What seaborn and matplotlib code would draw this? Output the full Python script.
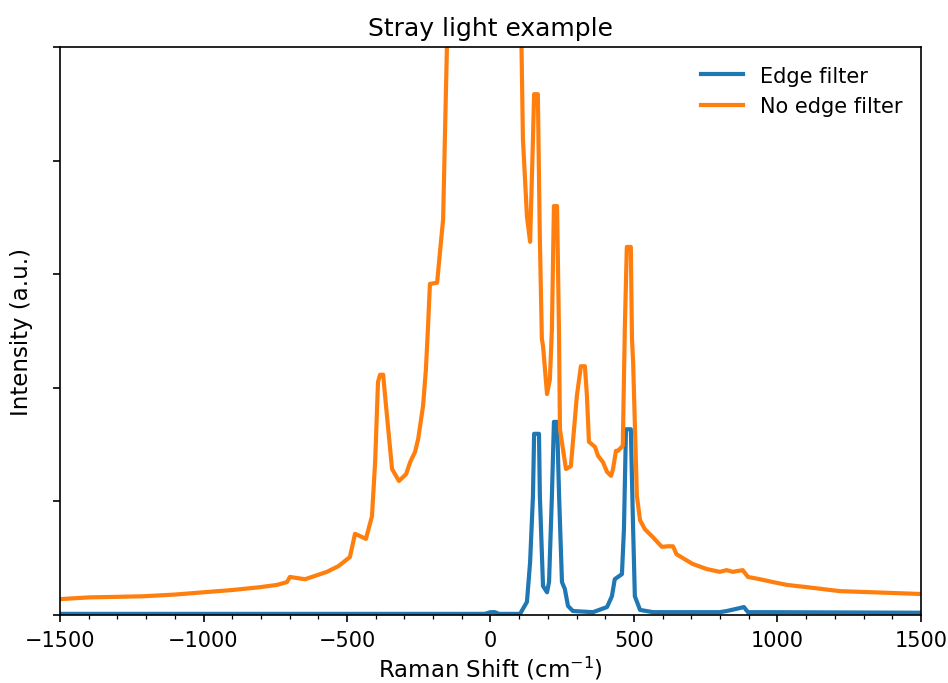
import numpy as np
import pandas as pd
import matplotlib
matplotlib.use("Agg")
import matplotlib.pyplot as plt
import seaborn as sns
from matplotlib.ticker import MultipleLocator

# Raman shift (cm^-1) and intensity (a.u.)
shift_edge = [-1500, -20, 0, 15, 30, 103, 127, 138, 148, 152, 169, 172, 183, 197,
              204, 214, 221, 232, 239, 249, 259, 270, 287, 357, 406, 423, 433, 444,
              458, 465, 472, 489, 497, 503, 521, 566, 799, 823, 858, 883, 897, 962, 1500]
int_edge = [0.2, 0.2, 0.5, 0.5, 0.2, 0.2, 2.3, 9.3, 21.0, 31.9, 31.9, 21.0, 5.1, 4.0,
            5.8, 21.0, 34.0, 34.0, 21.0, 5.8, 4.6, 1.6, 0.7, 0.5, 1.4, 3.3, 6.3, 6.7,
            7.2, 15.1, 32.7, 32.7, 15.1, 3.3, 0.9, 0.5, 0.5, 0.7, 1.1, 1.4, 0.5, 0.5, 0.4]

shift_noedge = [-1500, -1400, -1300, -1210, -1100, -1000, -900, -803, -744, -709, -699,
                -646, -570, -530, -490, -472, -455, -434, -413,
                -402, -392, -385, -374, -364, -353, -343, -319, -294, -280, -263,
                -252, -235, -225, -218, -211, -186, -176, -165, -159, -152, -145,
                -120, 0, 80, 105, 113, 127, 138, 148, 152, 165, 172, 179, 183, 197,
                207, 214, 221, 232, 239, 242, 263, 280, 301, 315, 329, 336, 343, 364,
                375, 392, 406, 420, 427, 437, 444, 461, 468, 475, 489, 493, 497, 510,
                521, 538, 566, 597, 618, 636, 648, 704, 753, 799, 823, 844, 879, 897,
                939, 984, 1033, 1103, 1218, 1333, 1500]
int_noedge = [2.8, 3.1, 3.2, 3.3, 3.6, 4.0, 4.4, 4.9, 5.3, 5.8, 6.7,
              6.3, 7.6, 8.6, 10.2, 14.3, 13.9, 13.4, 17.4,
              26.9, 41.0, 42.3, 42.3, 36.8, 31.0, 25.7, 23.6, 24.8, 26.9, 28.7,
              31.0, 36.8, 43.3, 50.4, 58.3, 58.5, 63.9, 69.7, 83.8, 99.6, 115,
              170, 300, 170, 110, 83.8, 70.2, 65.7, 83.8, 91.7, 91.7, 66.2, 48.6, 47.4, 38.9,
              41.5, 50.4, 72.0, 72.0, 48.6, 32.7, 25.7, 26.2, 38.6, 43.8, 43.8, 38.6, 30.5, 29.6,
              28.0, 26.9, 25.2, 24.5, 25.7, 28.9, 28.9, 29.8, 50.4, 64.8, 64.8, 48.6, 44.5, 21.0,
              16.7, 15.1, 13.7, 12.0, 12.1, 12.1, 10.7, 9.0, 8.1, 7.6, 7.9, 7.6, 7.9, 6.7,
              6.3, 5.8, 5.3, 4.9, 4.2, 4.0, 3.7]

df_edge = pd.DataFrame({"shift": shift_edge, "intensity": int_edge})
df_noedge = pd.DataFrame({"shift": shift_noedge, "intensity": int_noedge})

fig, ax = plt.subplots(figsize=(6.32, 4.56), dpi=150)

sns.lineplot(data=df_edge, x="shift", y="intensity", color="#1f77b4",
             label="Edge filter", estimator=None, linewidth=2, ax=ax)
sns.lineplot(data=df_noedge, x="shift", y="intensity", color="#ff7f0e",
             label="No edge filter", estimator=None, linewidth=2, ax=ax)

ax.set_xlim(-1500, 1500)
ax.set_ylim(0, 100)
ax.xaxis.set_major_locator(MultipleLocator(500))
ax.xaxis.set_minor_locator(MultipleLocator(100))
ax.yaxis.set_major_locator(MultipleLocator(20))
ax.set_yticklabels([])
ax.set_xlabel("Raman Shift (cm$^{-1}$)", fontsize=11, labelpad=2)
ax.set_ylabel("Intensity (a.u.)", fontsize=11, labelpad=6)
ax.set_title("Stray light example")
ax.legend(frameon=False, loc="upper right")

plt.subplots_adjust(left=0.0633, right=0.9715, top=0.9298, bottom=0.0994)
fig.savefig("out.png", dpi=150)
